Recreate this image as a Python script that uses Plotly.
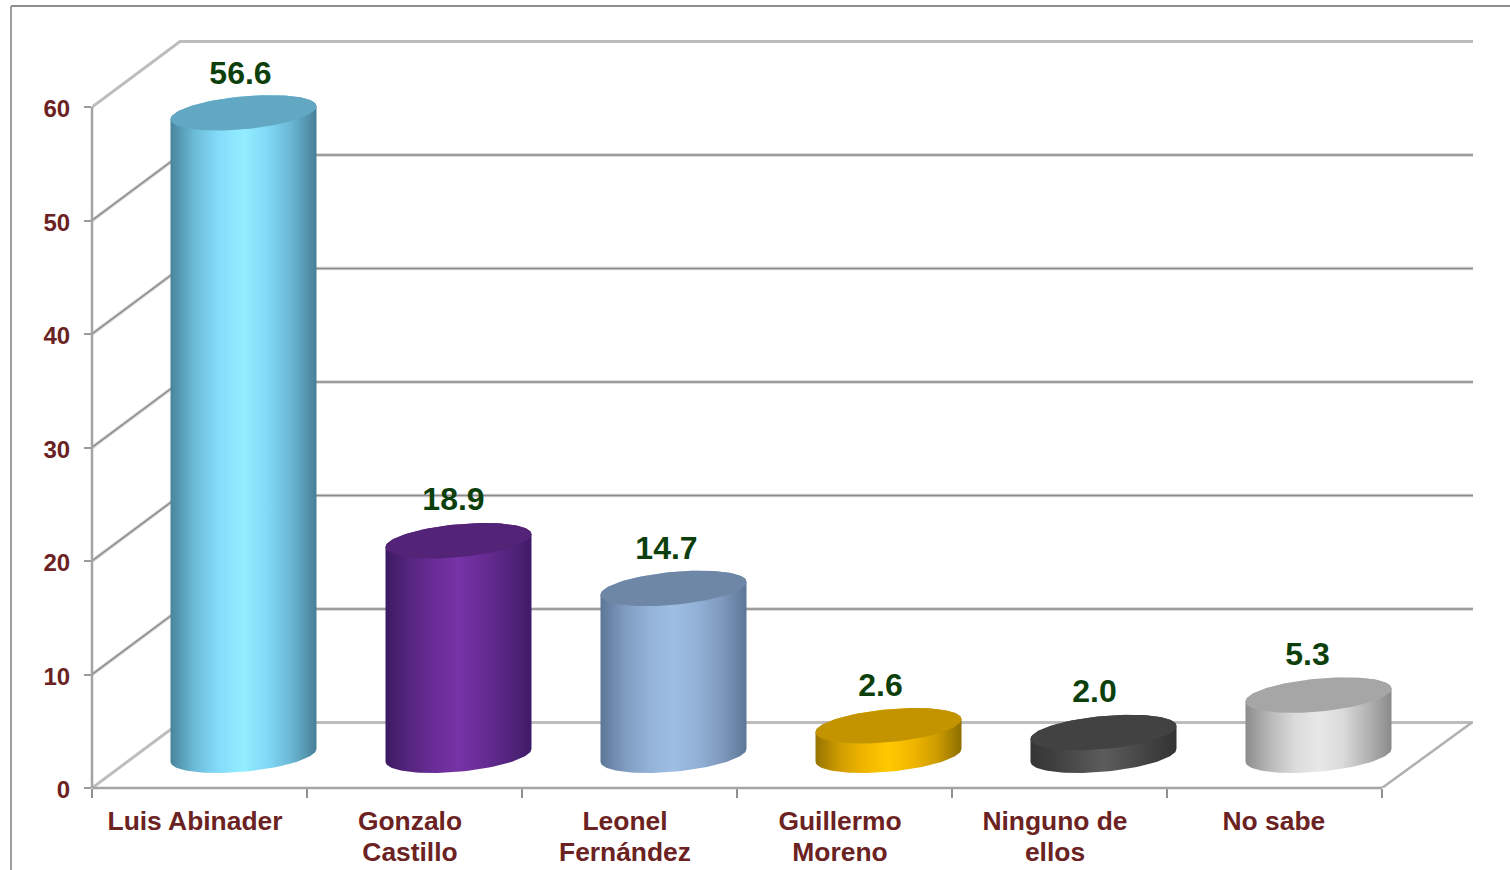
import numpy as np
import plotly.graph_objects as go

categories = [["Luis Abinader"], ["Gonzalo", "Castillo"], ["Leonel", "Fernández"],
              ["Guillermo", "Moreno"], ["Ninguno de", "ellos"], ["No sabe"]]
values = [56.6, 18.9, 14.7, 2.6, 2.0, 5.3]
y_ticks = [0, 10, 20, 30, 40, 50, 60]

# label centres, the excel labels sit a bit left of the middle of each slot
label_pos = [0.479, 1.479, 2.479, 3.479, 4.479, 5.497]

# side colour stops and top colour of each cylinder
side_colors = [
    ["#47859c", "#6cbcd8", "#84dcfb", "#92eeff", "#80d8f6", "#69b6d2", "#477f95"],
    ["#3c1a63", "#55257f", "#6a2d97", "#7633a6", "#682c94", "#55257f", "#3f1b68"],
    ["#5c7697", "#7f9bc0", "#94b2d8", "#9ebee4", "#92b0d6", "#7e99bc", "#5c7697"],
    ["#967400", "#d09d00", "#f0b600", "#ffc800", "#f0b600", "#cc9c00", "#8e6e00"],
    ["#343434", "#404040", "#4e4e4e", "#5c5c5c", "#4e4e4e", "#404040", "#333333"],
    ["#8c8c8c", "#b8b8b8", "#dadada", "#e8e8e8", "#dadada", "#b4b4b4", "#8a8a8a"],
]
top_colors = ["#62a8c3", "#522377", "#6f87a6", "#c49400", "#424242", "#a6a6a6"]
label_nudge_px = [-3, -5, -7, -8, -9, -11]
label_lift_px = [37, 39, 37, 38, 39, 38]

#plot area holds the front axes plus the back wall
MARGIN_L, MARGIN_R, MARGIN_T, MARGIN_B = 92, 37, 36, 82
PLOT_W = 1510 - MARGIN_L - MARGIN_R
PLOT_H = 870 - MARGIN_T - MARGIN_B
PX_X = 215.0
PX_Y = 681 / 60
X_END = PLOT_W / PX_X
Y_END = PLOT_H / PX_Y

#depth of the fake 3d box, in axis units
DEPTH_X = 88 / PX_X
DEPTH_Y = 65.5 / PX_Y
#cylinder shape
RX = 73 / PX_X
RY = 16.5 / PX_Y
SHEAR = 6.5 / PX_Y

MAROON = "#6b2222"
GREEN = "#0c3f0c"
AXIS_GREY = "#a4a4a4"
FONT = "Liberation Sans"

fig = go.Figure()


def add_line(xs, ys, color, width):
    fig.add_trace(go.Scatter(x=xs, y=ys, mode="lines", line=dict(color=color, width=width),
                             cliponaxis=False, hoverinfo="skip", showlegend=False))


def paper_x(px):
    return (px - MARGIN_L) / PLOT_W


def paper_y(py):
    return (870 - MARGIN_B - py) / PLOT_H


#walls, soft wide line under a thin dark one
for v in y_ticks:
    xs = [0, DEPTH_X, X_END]
    ys = [v, v + DEPTH_Y, v + DEPTH_Y]
    if v in (0, 60):
        add_line(xs, ys, "#bdbdbd", 3)
    else:
        add_line(xs, ys, "#d4d4d4", 3.5)
        add_line(xs, ys, "#8a8a8a", 1.5)
add_line([X_END - 0.005, 6], [DEPTH_Y, 0], "#b0b0b0", 2.5)

#cylinders
for i, v in enumerate(values):
    cx = i + 0.5 + DEPTH_X / 2
    base = DEPTH_Y / 2
    top = base + v
    t = np.linspace(np.pi, 2 * np.pi, 60)
    low_x = cx + RX * np.cos(t)
    low_y = base + SHEAR * np.cos(t) + RY * np.sin(t)
    #back half of the top edge so there is no seam under the lid
    u = t - np.pi
    high_x = cx + RX * np.cos(u)
    high_y = top + SHEAR * np.cos(u) + RY * np.sin(u)
    stops = np.linspace(0, 1, len(side_colors[i]))
    fig.add_trace(go.Scatter(
        x=np.concatenate([low_x, high_x]), y=np.concatenate([low_y, high_y]),
        mode="lines", line=dict(width=0), fill="toself", cliponaxis=False,
        fillgradient=dict(type="horizontal", colorscale=[[s, c] for s, c in zip(stops, side_colors[i])]),
        hoverinfo="skip", showlegend=False))
    t = np.linspace(0, 2 * np.pi, 120)
    fig.add_trace(go.Scatter(
        x=cx + RX * np.cos(t), y=top + SHEAR * np.cos(t) + RY * np.sin(t),
        mode="lines", line=dict(width=0), fill="toself", fillcolor=top_colors[i],
        cliponaxis=False, hoverinfo="skip", showlegend=False))

#data labels
fig.add_trace(go.Scatter(
    x=[i + 0.5 + DEPTH_X / 2 + label_nudge_px[i] / PX_X for i in range(len(values))],
    y=[v + DEPTH_Y / 2 + label_lift_px[i] / PX_Y for i, v in enumerate(values)],
    mode="text", text=[f"{v:.1f}" for v in values], textposition="middle center",
    textfont=dict(family=FONT, size=32, color=GREEN, weight="bold"),
    cliponaxis=False, hoverinfo="skip", showlegend=False))

#tick font 24 keeps the line spacing tight, the span sets the real text size
tick_text = ["<br>".join(f'<span style="font-size:26.4px">{p}</span>' for p in c) for c in categories]

fig.update_xaxes(range=[0, X_END], automargin=False, showgrid=False, zeroline=False, showline=False,
                 tickmode="array", tickvals=label_pos, ticktext=tick_text, ticks="", ticklabelstandoff=17,
                 tickfont=dict(family=FONT, size=24, color=MAROON, weight="bold"),
                 minor=dict(tickmode="array", tickvals=list(range(7)), ticks="outside",
                            ticklen=9, tickwidth=2, tickcolor="#909090"))
fig.update_yaxes(range=[0, Y_END], automargin=False, showgrid=False, zeroline=False, showline=False,
                 tickmode="array", tickvals=y_ticks,
                 ticks="outside", ticklen=7, tickwidth=2, tickcolor="#9a9a9a",
                 ticklabelstandoff=9, ticklabelshift=2,
                 tickfont=dict(family=FONT, size=24, color=MAROON, weight="bold"))

fig.update_layout(
    width=1510, height=870, margin=dict(l=MARGIN_L, r=MARGIN_R, t=MARGIN_T, b=MARGIN_B),
    paper_bgcolor="white", plot_bgcolor="white", showlegend=False,
    shapes=[
        #front axis lines, they stop short of the plot area so axis lines wont do
        dict(type="line", xref="x", yref="paper", x0=0, x1=6, y0=0, y1=0,
             line=dict(color=AXIS_GREY, width=2.5)),
        dict(type="line", xref="paper", yref="y", x0=0, x1=0, y0=0, y1=60,
             line=dict(color=AXIS_GREY, width=2.5)),
        #outer chart frame, open on the right and bottom
        dict(type="line", xref="paper", yref="paper", layer="below",
             x0=paper_x(11), x1=paper_x(1510), y0=paper_y(6), y1=paper_y(6),
             line=dict(color="#8e8e8e", width=2)),
        dict(type="line", xref="paper", yref="paper", layer="below",
             x0=paper_x(11), x1=paper_x(11), y0=paper_y(6), y1=paper_y(870),
             line=dict(color="#9e9e9e", width=2)),
    ],
)

fig.write_html("out.html", config={"displayModeBar": False}, post_script="document.body.style.margin='0';")
